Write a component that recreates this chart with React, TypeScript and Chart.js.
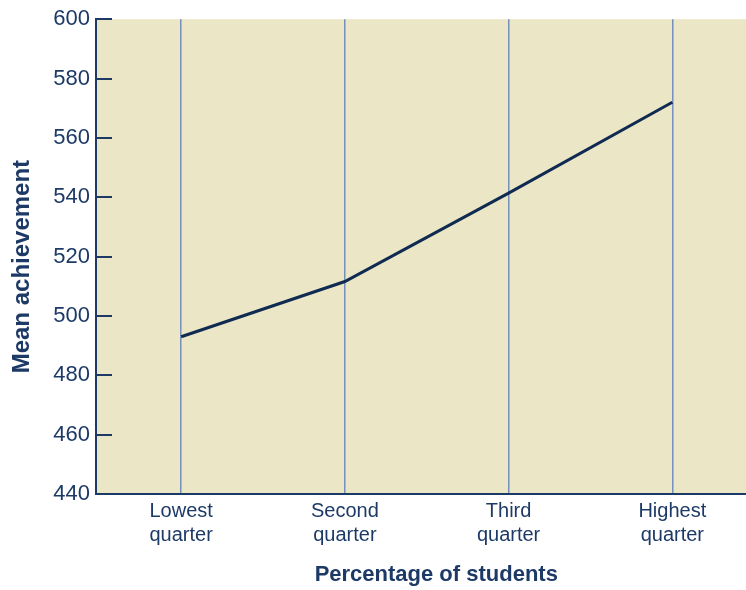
import React, { useEffect, useRef } from "react";
import { Chart, registerables } from "chart.js";

Chart.register(...registerables);

const categories: string[][] = [
  ["Lowest", "quarter"],
  ["Second", "quarter"],
  ["Third", "quarter"],
  ["Highest", "quarter"],
];
const positions: number[] = [0, 1, 2, 3];
const meanAchievement: number[] = [493, 511.6, 541.4, 572];
const yMin = 440;
const yMax = 600;
const yStep = 20;
const xTitle = "     Percentage of students";
const yTitle = "Mean achievement   ";

const NAVY = "#1d3a66";
const LINE = "#0f2b52";
const GRID = "#7590ba";
const BG = "#ebe6c6";
const FONT = "'Liberation Sans', Arial, sans-serif";

export default function App() {
  const ref = useRef<HTMLCanvasElement | null>(null);

  useEffect(() => {
    document.body.style.margin = "0";
    if (!ref.current) return;

    const bgPlugin = {
      id: "plotBg",
      beforeDraw(chart: any) {
        const { ctx, chartArea } = chart;
        ctx.save();
        ctx.fillStyle = BG;
        ctx.fillRect(chartArea.left, chartArea.top, chartArea.right - chartArea.left, chartArea.bottom - chartArea.top);
        ctx.restore();
      },
    };

    const innerTicks = {
      id: "innerTicks",
      afterDatasetsDraw(chart: any) {
        const { ctx, chartArea } = chart;
        const ys = chart.scales.y;
        ctx.save();
        ctx.strokeStyle = NAVY;
        ctx.lineWidth = 2;
        ys.ticks.forEach((t: any, i: number) => {
          const py = Math.round(ys.getPixelForTick(i));
          ctx.beginPath();
          ctx.moveTo(chartArea.left, py);
          ctx.lineTo(chartArea.left + 16, py);
          ctx.stroke();
        });
        ctx.restore();
      },
    };

    const chart = new Chart(ref.current, {
      type: "line",
      data: {
        datasets: [
          {
            data: positions.map((x, i) => ({ x, y: meanAchievement[i] })),
            borderColor: LINE,
            borderWidth: 3,
            pointRadius: 0,
            tension: 0,
            fill: false,
          },
        ],
      },
      options: {
        animation: false,
        responsive: false,
        layout: { padding: { left: 8, top: 18, right: 0, bottom: 0 } },
        plugins: { legend: { display: false }, tooltip: { enabled: false } },
        scales: {
          x: {
            type: "linear",
            min: -0.52,
            max: 3.45,
            afterBuildTicks: (scale: any) => {
              scale.ticks = positions.map((v) => ({ value: v }));
            },
            afterFit: (scale: any) => {
              scale.height = 96;
            },
            ticks: {
              callback: (v: any) => categories[Math.round(Number(v))] ?? "",
              color: NAVY,
              font: { family: FONT, size: 20, lineHeight: 1.2 },
              padding: 5,
              maxRotation: 0,
              autoSkip: false,
            },
            grid: { display: true, color: GRID, lineWidth: 1.5, drawTicks: false },
            border: { display: true, color: NAVY, width: 2 },
            title: {
              display: true,
              text: xTitle,
              color: NAVY,
              font: { family: FONT, size: 22, weight: "bold", lineHeight: 1.2 },
              padding: { top: 0, bottom: 2 },
            },
          },
          y: {
            min: yMin,
            max: yMax,
            afterFit: (scale: any) => {
              scale.width = 88;
            },
            ticks: {
              stepSize: yStep,
              color: NAVY,
              font: { family: FONT, size: 22 },
              padding: 6,
            },
            grid: { display: false, drawTicks: false },
            border: { display: true, color: NAVY, width: 2 },
            title: {
              display: true,
              text: yTitle,
              color: NAVY,
              font: { family: FONT, size: 24, weight: "bold", lineHeight: 1.2 },
              padding: { top: 0, bottom: 0 },
            },
          },
        },
      },
      plugins: [bgPlugin, innerTicks],
    } as any);

    return () => chart.destroy();
  }, []);

  return (
    <div style={{ width: 746, height: 590 }}>
      <canvas ref={ref} width={746} height={590} style={{ display: "block" }} />
    </div>
  );
}
